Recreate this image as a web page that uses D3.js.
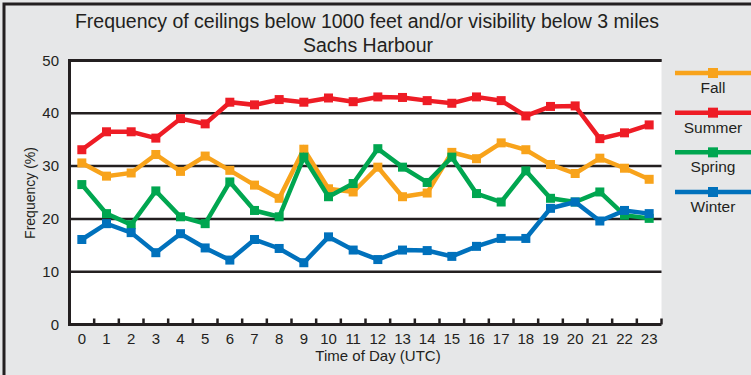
<!DOCTYPE html>
<html>
<head>
<meta charset="utf-8">
<script src="https://cdn.jsdelivr.net/npm/d3@7"></script>
<style>
  html, body { margin: 0; padding: 0; background: #e6e7e8; }
  svg { display: block; font-family: "Liberation Sans", Arial, sans-serif; }
</style>
</head>
<body>
<svg id="chart"></svg>
<script>
// Chart data
const hours = d3.range(0, 24).map(String);
const seriesNames = ['Fall', 'Summer', 'Spring', 'Winter'];
const fall   = [30.6, 28.1, 28.7, 32.2, 29.0, 31.9, 29.2, 26.4, 23.9, 33.2, 25.7, 25.1, 29.8, 24.2, 24.9, 32.6, 31.4, 34.4, 33.1, 30.3, 28.6, 31.5, 29.6, 27.5];
const summer = [33.1, 36.5, 36.5, 35.3, 39.0, 38.0, 42.1, 41.6, 42.6, 42.1, 42.9, 42.2, 43.1, 43.0, 42.4, 41.9, 43.1, 42.4, 39.5, 41.3, 41.4, 35.2, 36.3, 37.8];
const spring = [26.5, 21.0, 18.9, 25.3, 20.4, 19.1, 27.0, 21.6, 20.4, 31.7, 24.2, 26.7, 33.3, 29.8, 26.9, 31.7, 24.8, 23.2, 29.1, 23.9, 23.2, 25.1, 20.7, 20.1];
const winter = [16.1, 19.1, 17.4, 13.6, 17.2, 14.5, 12.2, 16.1, 14.4, 11.7, 16.6, 14.1, 12.3, 14.1, 14.0, 12.9, 14.8, 16.3, 16.3, 22.0, 23.2, 19.6, 21.6, 21.0];
const yTicks = [0, 10, 20, 30, 40, 50];

const colors = { Fall: '#f8a31b', Summer: '#ee1c25', Spring: '#00a650', Winter: '#0071bc' };
const values = { Fall: fall, Summer: summer, Spring: spring, Winter: winter };

const svgWidth = 751;
const svgHeight = 375;
const ink = '#231f20';

const svg = d3.select('#chart')
  .attr('width', svgWidth)
  .attr('height', svgHeight);

// background + outer frame (left and top only)
svg.append('rect').attr('width', svgWidth).attr('height', svgHeight).attr('fill', '#e6e7e8');
svg.append('path')
  .attr('d', 'M4,375 V4 H751')
  .attr('fill', 'none')
  .attr('stroke', ink)
  .attr('stroke-width', 3);

// plot area
const plot = { left: 69.5, right: 661.5, top: 60.5, bottom: 324.5 };

const xScale = d3.scaleBand()
  .domain(hours)
  .range([plot.left, plot.right]);

const yScale = d3.scaleLinear()
  .domain([0, 50])
  .range([plot.bottom, plot.top]);

svg.append('rect')
  .attr('x', plot.left)
  .attr('y', plot.top)
  .attr('width', plot.right - plot.left)
  .attr('height', plot.bottom - plot.top)
  .attr('fill', 'white');

// horizontal grid lines
svg.append('g')
  .selectAll('line')
  .data(yTicks.filter(d => d > 0))
  .enter()
  .append('line')
  .attr('x1', plot.left)
  .attr('x2', plot.right)
  .attr('y1', d => yScale(d))
  .attr('y2', d => yScale(d))
  .attr('stroke', ink)
  .attr('stroke-width', 2.5);

// y axis labels
svg.append('g')
  .selectAll('text')
  .data(yTicks)
  .enter()
  .append('text')
  .attr('x', 59)
  .attr('y', d => yScale(d) + 5)
  .attr('text-anchor', 'end')
  .attr('font-size', '15px')
  .attr('fill', ink)
  .text(d => d);

// x axis: labels from the band scale, inward ticks at band edges
const xAxis = d3.axisBottom(xScale).tickSize(0).tickPadding(9);
const xAxisGroup = svg.append('g')
  .attr('transform', 'translate(0,' + plot.bottom + ')')
  .call(xAxis);
xAxisGroup.select('.domain').remove();
xAxisGroup.selectAll('text')
  .attr('font-size', '15px')
  .attr('font-family', '"Liberation Sans", Arial, sans-serif')
  .attr('fill', ink);

svg.append('g')
  .selectAll('line')
  .data(hours.slice(1).concat(['end']))
  .enter()
  .append('line')
  .attr('x1', d => d === 'end' ? plot.right : xScale(d))
  .attr('x2', d => d === 'end' ? plot.right : xScale(d))
  .attr('y1', plot.bottom)
  .attr('y2', plot.bottom - 6)
  .attr('stroke', ink)
  .attr('stroke-width', 2.5);

// axis frame lines
svg.append('path')
  .attr('d', `M${plot.right},${plot.top} H${plot.left} V${plot.bottom} H${plot.right}`)
  .attr('fill', 'none')
  .attr('stroke', ink)
  .attr('stroke-width', 3);

// series
const line = d3.line()
  .x((d, i) => xScale(hours[i]) + xScale.bandwidth() / 2)
  .y(d => yScale(d));

const mk = 9;
seriesNames.forEach(name => {
  const g = svg.append('g');
  g.append('path')
    .datum(values[name])
    .attr('d', line)
    .attr('fill', 'none')
    .attr('stroke', colors[name])
    .attr('stroke-width', 4.5)
    .attr('stroke-linejoin', 'miter');
  g.selectAll('rect')
    .data(values[name])
    .enter()
    .append('rect')
    .attr('x', (d, i) => xScale(hours[i]) + xScale.bandwidth() / 2 - mk / 2)
    .attr('y', d => yScale(d) - mk / 2)
    .attr('width', mk)
    .attr('height', mk)
    .attr('fill', colors[name]);
});

// titles
svg.append('text')
  .attr('x', 367)
  .attr('y', 28)
  .attr('text-anchor', 'middle')
  .attr('font-size', '19.5px')
  .attr('fill', ink)
  .text('Frequency of ceilings below 1000 feet and/or visibility below 3 miles');

svg.append('text')
  .attr('x', 368)
  .attr('y', 52)
  .attr('text-anchor', 'middle')
  .attr('font-size', '19.5px')
  .attr('fill', ink)
  .text('Sachs Harbour');

svg.append('text')
  .attr('x', 378)
  .attr('y', 361)
  .attr('text-anchor', 'middle')
  .attr('font-size', '15px')
  .attr('fill', ink)
  .text('Time of Day (UTC)');

svg.append('text')
  .attr('transform', 'translate(35,193) rotate(-90)')
  .attr('text-anchor', 'middle')
  .attr('font-size', '14px')
  .attr('fill', ink)
  .text('Frequency (%)');

// legend
const legendY = d3.scalePoint()
  .domain(seriesNames)
  .range([73, 192]);

const legend = svg.append('g');
seriesNames.forEach(name => {
  const y = legendY(name);
  legend.append('line')
    .attr('x1', 675)
    .attr('x2', 751)
    .attr('y1', y)
    .attr('y2', y)
    .attr('stroke', colors[name])
    .attr('stroke-width', 4.5);
  legend.append('rect')
    .attr('x', 713 - 5)
    .attr('y', y - 5)
    .attr('width', 10)
    .attr('height', 10)
    .attr('fill', colors[name]);
  legend.append('text')
    .attr('x', 713)
    .attr('y', y + 20)
    .attr('text-anchor', 'middle')
    .attr('font-size', '15.5px')
    .attr('fill', ink)
    .text(name);
});
</script>
</body>
</html>
